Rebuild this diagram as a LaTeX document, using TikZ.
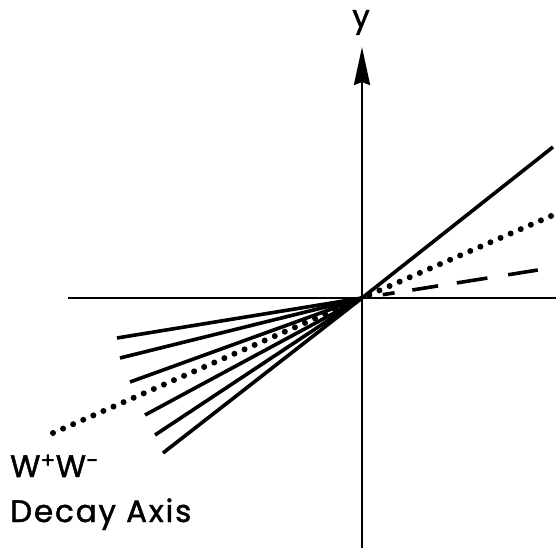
\documentclass[tikz,border=0pt]{standalone}
\usepackage{fontspec}
\setmainfont[LetterSpace=6,FakeBold=1.5]{Poppins}
\usetikzlibrary{arrows.meta}
\begin{document}
\begin{tikzpicture}[x=1pt,y=-1pt,
  axisline/.style={line width=2.8pt},
  ray/.style={line width=3.6pt},
  dotray/.style={line width=6pt,line cap=round,dash pattern=on 0pt off 11pt},
  dashray/.style={line width=3.6pt,dash pattern=on 0pt off 21pt on 12pt off 18pt on 26pt off 19pt on 31pt off 21pt on 30pt off 30pt},
  lbl/.style={inner sep=0pt,font=\fontsize{31}{36}\selectfont}]
\useasboundingbox (0,0) rectangle (556,548);
\fill[white] (0,0) rectangle (556,548);
\coordinate (O) at (362,298);
\coordinate (xl) at (68,298);
\coordinate (xr) at (556,298);
\coordinate (yb) at (362,548);
\coordinate (yt) at (362,47);
% upper right rays
\coordinate (ur1) at (553,147);
\coordinate (ur2) at (551,216);
\coordinate (ur3) at (538,270);
% lower left rays
\coordinate (ll1) at (117,338);
\coordinate (ll2) at (120,358);
\coordinate (ll3) at (130,382);
\coordinate (ll4) at (145,415);
\coordinate (ll5) at (155,435);
\coordinate (ll6) at (163,453);
\coordinate (lld) at (53,433);
% axes
\draw[axisline] (xl) -- (xr);
\draw[axisline,-{Stealth[length=38pt,width=16pt,inset=3pt]}] (yb) -- (yt);
\node[lbl,anchor=base] (ylab) at (361,27) {y};
% rays
\draw[ray] (O) -- (ur1);
\draw[dotray] (ur2) -- (O);
\draw[dashray] (O) -- (ur3);
\foreach \p in {ll1,ll2,ll3,ll4,ll5,ll6} \draw[ray] (O) -- (\p);
\draw[dotray] (lld) -- (O);
% labels
\node[lbl,anchor=base west] (ww) at (10,477) {W\textsuperscript{+}W\textsuperscript{−}};
\node[lbl,anchor=base west] (decay) at (10,522) {Decay Axis};
\end{tikzpicture}
\end{document}
